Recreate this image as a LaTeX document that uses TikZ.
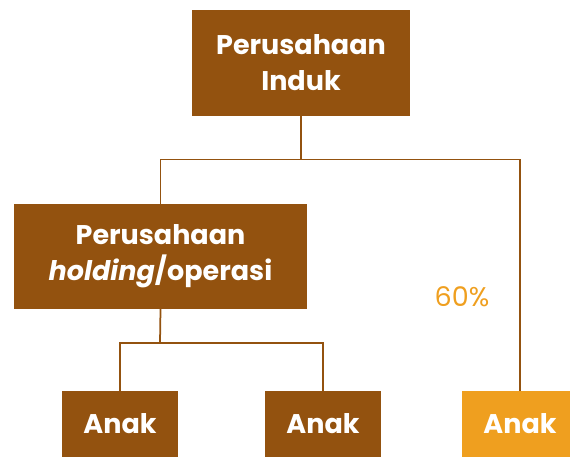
\documentclass[tikz,border=0pt]{standalone}
\usepackage{fontspec}
\setmainfont{Poppins}
\definecolor{coklat}{HTML}{93520F}
\definecolor{oranye}{HTML}{EF9F1F}
\tikzset{
  kotak/.style={fill=coklat, text=white, align=center, inner sep=0pt,
    font=\fontsize{27}{36}\selectfont\bfseries},
  garis/.style={draw=coklat, line width=1.75pt}
}
\begin{document}
\begin{tikzpicture}[x=1pt,y=-1pt]
  \useasboundingbox (0,0) rectangle (570,457);
  \node[kotak, minimum width=218, minimum height=106] (induk) at (301,63) {Perusahaan\\Induk};
  \node[kotak, minimum width=293, minimum height=105] (holding) at (160.5,256.5) {Perusahaan\\\textit{holding}/operasi};
  \node[kotak, minimum width=116, minimum height=66] (a1) at (120,424) {Anak};
  \node[kotak, minimum width=116, minimum height=66] (a2) at (323,424) {Anak};
  \node[kotak, fill=oranye, minimum width=116, minimum height=66] (a3) at (520,424) {Anak};
  \node[text=oranye, font=\fontsize{27}{32}\selectfont] (persen) at (462,297) {60\%};
  \coordinate (j1) at (301,159.5);
  \coordinate (j2) at (160,343);
  \begin{scope}[garis]
    \draw (induk.south) -- (j1);
    \draw (j1) -| (holding.north);
    \draw (j1) -| (a3.north);
    \draw (holding.south) -- (j2);
    \draw (j2) -| (a1.north);
    \draw (j2) -| (a2.north);
  \end{scope}
\end{tikzpicture}
\end{document}
